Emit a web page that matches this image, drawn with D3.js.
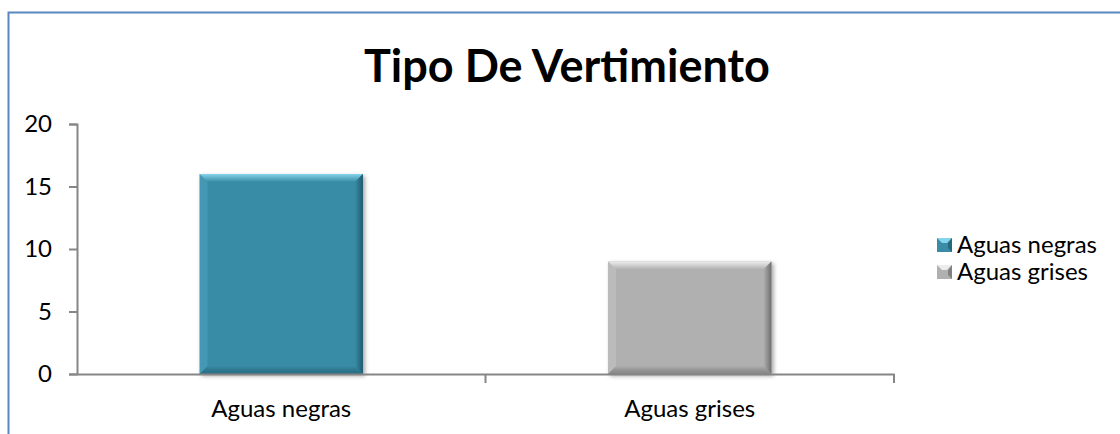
<!DOCTYPE html>
<html>
<head>
<meta charset="utf-8">
<script src="https://cdn.jsdelivr.net/npm/d3@7"></script>
<style>
  html, body { margin: 0; padding: 0; background: #fff; }
  svg { display: block; font-family: Lato, "Open Sans", sans-serif; }
</style>
</head>
<body>
<svg id="chart" width="1120" height="434"></svg>
<script>
const title = "Tipo De Vertimiento";
const categories = ["Aguas negras", "Aguas grises"];
const values = [16, 9];
const yTicks = [0, 5, 10, 15, 20];
const legendLabels = ["Aguas negras", "Aguas grises"];
const colors = ["#388ca6", "#b0b0b0"];
const lightColors = ["#86d4ec", "#ececec"];
const darkColors = ["#1f5a6c", "#6e6e6e"];

const svg = d3.select("#chart");
const defs = svg.append("defs");
const f = defs.append("filter").attr("id", "shadow").attr("x", "-10%").attr("y", "-10%").attr("width", "130%").attr("height", "130%");
f.append("feDropShadow").attr("dx", 2).attr("dy", 2).attr("stdDeviation", 2).attr("flood-color", "#000").attr("flood-opacity", 0.35);

// outer border (left and top visible)
svg.append("path")
  .attr("d", "M8.5,434 L8.5,12.5 L1120,12.5")
  .attr("fill", "none").attr("stroke", "#5b87c0").attr("stroke-width", 2);

const x = d3.scaleBand().domain(categories).range([77, 894]).paddingInner(0.6).paddingOuter(0.3);
const y = d3.scaleLinear().domain([0, 20]).range([374, 124]);

// title
svg.append("text").attr("x", 567).attr("y", 82).attr("text-anchor", "middle")
  .attr("font-size", 45).attr("font-weight", "bold").attr("fill", "#000")
  .text(title);

// bars with bevel
const bw = 8;
const g = svg.append("g");
categories.forEach((c, i) => {
  const x0 = x(c), x1 = x0 + x.bandwidth();
  const y0 = y(values[i]), y1 = y(0);
  const bg = g.append("g").attr("filter", "url(#shadow)");
  bg.append("rect").attr("x", x0).attr("y", y0).attr("width", x1 - x0).attr("height", y1 - y0).attr("fill", colors[i]);
  const tg = defs.append("linearGradient").attr("id", "tg" + i).attr("x1", 0).attr("y1", 0).attr("x2", 0).attr("y2", 1);
  tg.append("stop").attr("offset", 0).attr("stop-color", lightColors[i]);
  tg.append("stop").attr("offset", 1).attr("stop-color", colors[i]);
  bg.append("path").attr("d", `M${x0},${y0} L${x1},${y0} L${x1 - bw},${y0 + bw} L${x0 + bw},${y0 + bw} Z`).attr("fill", `url(#tg${i})`);
  bg.append("path").attr("d", `M${x0},${y0} L${x0 + bw},${y0 + bw} L${x0 + bw},${y1 - bw} L${x0},${y1} Z`)
    .attr("fill", lightColors[i]).attr("opacity", 0.18);
  const rg = defs.append("linearGradient").attr("id", "rg" + i).attr("x1", 0).attr("y1", 0).attr("x2", 1).attr("y2", 0);
  rg.append("stop").attr("offset", 0).attr("stop-color", colors[i]);
  rg.append("stop").attr("offset", 1).attr("stop-color", darkColors[i]);
  bg.append("path").attr("d", `M${x1},${y0} L${x1},${y1} L${x1 - bw},${y1 - bw} L${x1 - bw},${y0 + bw} Z`).attr("fill", `url(#rg${i})`);
  const bgd = defs.append("linearGradient").attr("id", "bg" + i).attr("x1", 0).attr("y1", 0).attr("x2", 0).attr("y2", 1);
  bgd.append("stop").attr("offset", 0).attr("stop-color", colors[i]);
  bgd.append("stop").attr("offset", 1).attr("stop-color", darkColors[i]).attr("stop-opacity", 0.6);
  bg.append("path").attr("d", `M${x0},${y1} L${x0 + bw},${y1 - bw} L${x1 - bw},${y1 - bw} L${x1},${y1} Z`).attr("fill", `url(#bg${i})`);
});

// y axis
const yAxis = svg.append("g").attr("transform", "translate(77,0)")
  .call(d3.axisLeft(y).tickValues(yTicks).tickSize(8).tickPadding(17).tickFormat(d3.format("d")));
yAxis.select(".domain").attr("stroke", "#868686").attr("stroke-width", 2);
yAxis.selectAll(".tick line").attr("stroke", "#868686").attr("stroke-width", 2);
yAxis.selectAll("text").attr("font-size", 24).attr("fill", "#000").attr("font-family", "Lato, sans-serif");

// x axis
const xAxis = svg.append("g").attr("transform", "translate(0,374)")
  .call(d3.axisBottom(x).tickSize(0).tickPadding(26));
xAxis.select(".domain").attr("stroke", "#868686").attr("stroke-width", 2);
xAxis.selectAll("text").attr("font-size", 24).attr("fill", "#000").attr("font-family", "Lato, sans-serif");
const gap = (x.step() - x.bandwidth()) / 2;
const boundaries = categories.map(c => x(c) + x.bandwidth() + gap);
svg.append("g").selectAll("line").data(boundaries).join("line")
  .attr("x1", d => d).attr("x2", d => d).attr("y1", 374).attr("y2", 383)
  .attr("stroke", "#868686").attr("stroke-width", 2);

// legend
const lg = svg.append("g");
legendLabels.forEach((l, i) => {
  const ly = 245 + i * 27;
  const mg = lg.append("g");
  mg.append("rect").attr("x", 937).attr("y", ly - 7).attr("width", 15).attr("height", 14).attr("fill", colors[i]);
  mg.append("path").attr("d", `M937,${ly - 7} L952,${ly - 7} L947,${ly - 2} L942,${ly - 2} Z`).attr("fill", lightColors[i]);
  mg.append("path").attr("d", `M952,${ly - 7} L952,${ly + 7} L948,${ly + 3} L948,${ly - 2} Z`).attr("fill", darkColors[i]).attr("opacity", 0.7);
  lg.append("text").attr("x", 957).attr("y", ly).attr("dy", "0.35em")
    .attr("font-size", 24).attr("fill", "#000").text(l);
});
</script>
</body>
</html>
